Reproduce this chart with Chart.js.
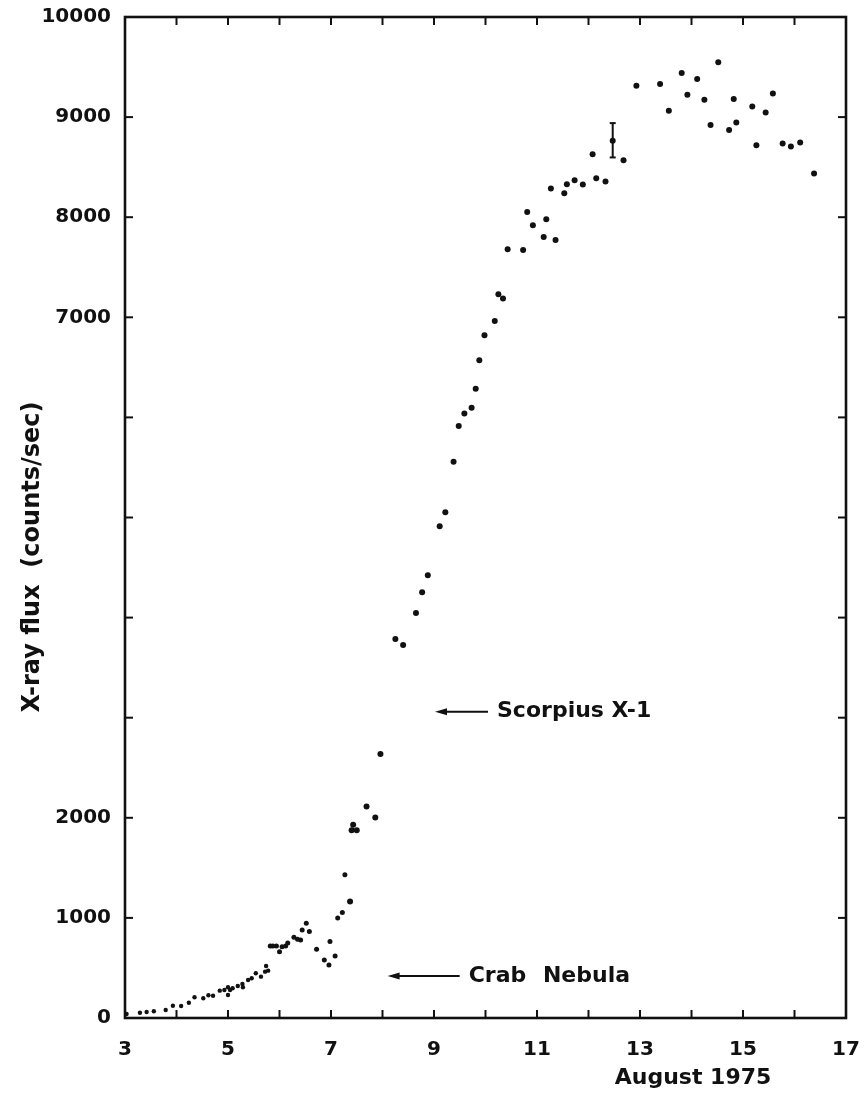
<!DOCTYPE html>
<html>
<head>
<meta charset="utf-8">
<script src="https://cdn.jsdelivr.net/npm/chart.js@4.4.1/dist/chart.umd.min.js"></script>
<style>
  html, body { margin: 0; padding: 0; background: #fff; }
  #wrap { width: 864px; height: 1093px; }
</style>
</head>
<body>
<div id="wrap"><canvas id="fluxChart"></canvas></div>
<script>
// Day of August 1975 for each measurement
const days = [
  3.03, 3.29, 3.42, 3.56, 3.79, 3.93, 4.09, 4.24, 4.35, 4.52,
  4.62, 4.71, 4.84, 4.93, 5.00, 5.00, 5.04, 5.09, 5.19, 5.28,
  5.29, 5.39, 5.46, 5.54, 5.64, 5.72, 5.74, 5.78, 5.82, 5.87,
  5.94, 6.00, 6.05, 6.12, 6.16, 6.28, 6.35, 6.41, 6.44, 6.52,
  6.58, 6.72, 6.87, 6.96, 6.98, 7.08, 7.13, 7.22, 7.27, 7.37,
  7.40, 7.43, 7.50, 7.69, 7.86, 7.96, 8.25, 8.40, 8.65, 8.77,
  8.88, 9.11, 9.22, 9.38, 9.48, 9.59, 9.73, 9.81, 9.88, 9.98,
  10.18, 10.25, 10.34, 10.43, 10.73, 10.81, 10.92, 11.13, 11.18, 11.27,
  11.36, 11.53, 11.58, 11.73, 11.89, 12.08, 12.15, 12.33, 12.47, 12.68,
  12.93, 13.39, 13.56, 13.81, 13.92, 14.11, 14.25, 14.37, 14.52, 14.73,
  14.82, 14.87, 15.18, 15.26, 15.44, 15.58, 15.77, 15.93, 16.11, 16.38
];

// X-ray flux in counts/sec
const flux = [
  40, 53, 60, 67, 80, 123, 120, 153, 207, 197,
  227, 223, 273, 280, 307, 230, 280, 297, 320, 340,
  307, 380, 397, 447, 413, 463, 520, 473, 720, 720,
  720, 663, 713, 720, 750, 807, 787, 780, 880, 947,
  863, 687, 580, 530, 763, 620, 1000, 1055, 1430, 1163,
  1875, 1930, 1875, 2113, 2003, 2637, 3787, 3727, 4047, 4253,
  4423, 4913, 5053, 5557, 5913, 6040, 6097, 6287, 6570, 6820,
  6963, 7230, 7187, 7680, 7673, 8053, 7920, 7803, 7980, 8287,
  7773, 8240, 8330, 8370, 8327, 8630, 8390, 8357, 8763, 8570,
  9313, 9330, 9063, 9440, 9223, 9380, 9173, 8920, 9547, 8870,
  9180, 8947, 9107, 8720, 9047, 9237, 8737, 8707, 8747, 8437
];

const xLabelTicks = [3, 5, 7, 9, 11, 13, 15, 17];
const yLabelTicks = [0, 1000, 2000, 7000, 8000, 9000, 10000];

// typical uncertainty, drawn once
const errDay = 12.47;
const errLow = 8597;
const errHigh = 8940;

// reference sources marked on the flux axis
const sourceNames = ["Scorpius X-1", "Crab Nebula"];
const sourceDays = [9.02, 8.1];
const sourceFlux = [3060, 420];

const points = days.map((d, i) => ({ x: d, y: flux[i] }));

const FONT = "'DejaVu Sans', sans-serif";
Chart.defaults.font.family = FONT;
Chart.defaults.color = "#111";

function line(ctx, x1, y1, x2, y2) {
  ctx.beginPath();
  ctx.moveTo(x1, y1);
  ctx.lineTo(x2, y2);
  ctx.stroke();
}

const frame = {
  id: "frame",
  afterDatasetsDraw(chart) {
    const { ctx, chartArea: a, scales: { x, y } } = chart;
    ctx.save();
    ctx.strokeStyle = "#111";
    ctx.fillStyle = "#111";
    ctx.lineWidth = 2.6;
    ctx.strokeRect(a.left, a.top, a.right - a.left, a.bottom - a.top);

    // ticks point into the plot on all four sides
    ctx.lineWidth = 2;
    x.ticks.forEach(t => {
      if (t.value <= x.min || t.value >= x.max) return;
      const px = x.getPixelForValue(t.value);
      line(ctx, px, a.bottom, px, a.bottom - 8);
      line(ctx, px, a.top, px, a.top + 8);
    });
    y.ticks.forEach(t => {
      if (t.value <= y.min || t.value >= y.max) return;
      const py = y.getPixelForValue(t.value);
      line(ctx, a.left, py, a.left + 8, py);
      line(ctx, a.right, py, a.right - 8, py);
    });

    // error bar
    const ex = x.getPixelForValue(errDay);
    const eTop = y.getPixelForValue(errHigh);
    const eBot = y.getPixelForValue(errLow);
    line(ctx, ex, eTop, ex, eBot);
    line(ctx, ex - 3, eTop, ex + 3, eTop);
    line(ctx, ex - 3, eBot, ex + 3, eBot);

    // source arrows and names
    const arrowLen = [53, 72];
    const gap = ["0px", "9px"];
    ctx.font = "bold 22px " + FONT;
    ctx.textBaseline = "middle";
    ctx.textAlign = "left";
    sourceNames.forEach((name, i) => {
      const tx = x.getPixelForValue(sourceDays[i]);
      const ty = y.getPixelForValue(sourceFlux[i]);
      ctx.lineWidth = 2;
      line(ctx, tx + 6, ty, tx + arrowLen[i], ty);
      ctx.beginPath();
      ctx.moveTo(tx, ty);
      ctx.lineTo(tx + 12, ty - 3.5);
      ctx.lineTo(tx + 12, ty + 3.5);
      ctx.closePath();
      ctx.fill();
      ctx.wordSpacing = gap[i];
      ctx.fillText(name, tx + arrowLen[i] + 9, ty);
    });
    ctx.wordSpacing = "0px";

    // axis titles
    ctx.textAlign = "center";
    ctx.font = "bold 22px " + FONT;
    ctx.fillText("August 1975", x.getPixelForValue(14.03), a.bottom + 60);
    ctx.translate(33, 557);
    ctx.rotate(-Math.PI / 2);
    ctx.font = "bold 24px " + FONT;
    ctx.fillText("X-ray flux  (counts/sec)", 0, 0);
    ctx.restore();
  }
};

const ctx = document.getElementById("fluxChart").getContext("2d");
new Chart(ctx, {
  type: "scatter",
  data: {
    datasets: [{
      data: points,
      backgroundColor: "#111",
      borderColor: "#111",
      borderWidth: 0,
      pointRadius: c => (c.raw.x < 5.8 ? 2.2 : c.raw.x < 7.3 ? 2.5 : 3)
    }]
  },
  options: {
    responsive: true,
    maintainAspectRatio: false,
    animation: false,
    layout: { padding: { top: 17, right: 18, left: 0, bottom: 0 } },
    plugins: {
      legend: { display: false },
      tooltip: { enabled: false }
    },
    scales: {
      x: {
        type: "linear",
        min: 3,
        max: 17,
        grid: { display: false },
        border: { display: false },
        ticks: {
          stepSize: 1,
          padding: 12,
          font: { size: 20, weight: "bold" },
          color: "#111",
          maxRotation: 0,
          callback: v => (xLabelTicks.includes(v) ? v : "")
        },
        afterFit: s => {
          s.height = 75;
          s.paddingLeft = 0;
          s.paddingRight = 0;
        }
      },
      y: {
        min: 0,
        max: 10000,
        grid: { display: false },
        border: { display: false },
        ticks: {
          stepSize: 1000,
          padding: 6,
          font: { size: 20, weight: "bold" },
          color: "#111",
          callback: v => (yLabelTicks.includes(v) ? v : "")
        },
        afterFit: s => {
          s.width = 125;
          s.paddingTop = 0;
          s.paddingBottom = 0;
        }
      }
    }
  },
  plugins: [frame]
});
</script>
</body>
</html>
